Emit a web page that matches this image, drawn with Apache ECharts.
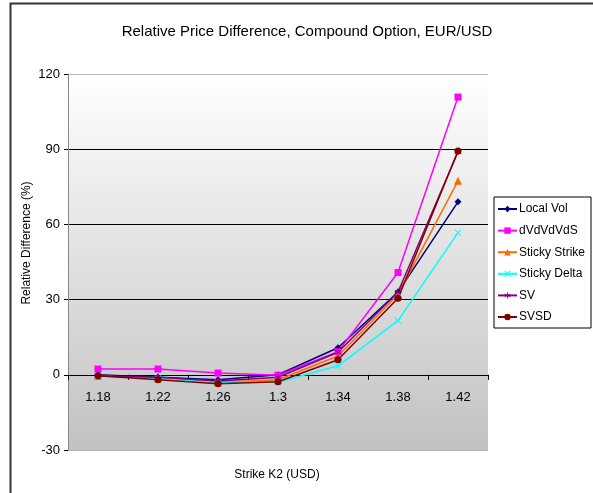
<!DOCTYPE html>
<html>
<head>
<meta charset="utf-8">
<script src="https://cdn.jsdelivr.net/npm/echarts@6/dist/echarts.min.js"></script>
<style>
  html, body { margin: 0; padding: 0; background: #fff; }
  #chart { width: 593px; height: 493px; }
</style>
</head>
<body>
<div id="chart"></div>
<script>
// Strike levels K2 (USD)
const strikes = ['1.18', '1.22', '1.26', '1.3', '1.34', '1.38', '1.42'];

// Relative price difference (%) per volatility model
const localVol     = [0.0, -1.0, -2.0, 0.0, 10.8, 33.0, 69.0];
const dVdVdVdS     = [2.3, 2.3, 0.7, -0.2, 9.2, 40.8, 110.8];
const stickyStrike = [-0.5, -1.5, -3.0, -2.0, 7.5, 32.0, 77.4];
const stickyDelta  = [-0.5, -1.5, -3.0, -3.0, 3.6, 21.6, 56.7];
const sv           = [-0.5, -1.0, -2.5, -1.0, 9.0, 33.0, 89.0];
const svsd         = [-0.4, -2.0, -3.6, -2.8, 6.0, 30.5, 89.3];

const yTicks = [-30, 0, 30, 60, 90, 120];

const FONT = '"Liberation Sans", Arial, sans-serif';

// plot box geometry
const GRID = { left: 68, right: 105, top: 74, bottom: 43 };
const plotHeight = 493 - GRID.top - GRID.bottom;
const yMin = yTicks[0], yMax = yTicks[yTicks.length - 1];
// shift the category axis up so it sits on the zero line
const zeroOffset = -plotHeight * (0 - yMin) / (yMax - yMin);

const crossPath = 'path://M0,1L1,0L5,4L9,0L10,1L6,5L10,9L9,10L5,6L1,10L0,9L4,5Z';
const starPath = 'path://M4.4,0H5.6V3.9L9.0,1.9L9.6,2.9L6.2,5L9.6,7.1L9.0,8.1L5.6,6.1V10H4.4V6.1L1.0,8.1L0.4,7.1L3.8,5L0.4,2.9L1.0,1.9L4.4,3.9Z';

function line(name, data, color, symbol, size) {
  return {
    name, type: 'line', data,
    symbol, symbolSize: size,
    showSymbol: true,
    lineStyle: { color, width: 1.5 },
    itemStyle: { color, borderWidth: 0 },
    emphasis: { disabled: true },
    animation: false
  };
}

const chart = echarts.init(document.getElementById('chart'), null, { renderer: 'canvas' });
chart.setOption({
  animation: false,
  backgroundColor: '#ffffff',
  title: {
    text: 'Relative Price Difference, Compound Option, EUR/USD',
    left: 302, top: 19, textAlign: 'center',
    textStyle: { fontFamily: FONT, fontSize: 15, fontWeight: 'normal', color: '#000' }
  },
  grid: {
    left: GRID.left, right: GRID.right, top: GRID.top, bottom: GRID.bottom,
    show: true, borderWidth: 0,
    backgroundColor: new echarts.graphic.LinearGradient(0, 0, 0, 1, [
      { offset: 0, color: '#ffffff' },
      { offset: 1, color: '#c2c2c2' }
    ])
  },
  legend: {
    orient: 'vertical',
    left: 494, top: 197,
    padding: [5, 6, 4, 3],
    itemGap: 7.6,
    itemWidth: 19, itemHeight: 8,
    backgroundColor: '#ffffff',
    borderColor: '#000000', borderWidth: 1, borderRadius: 0,
    textStyle: { fontFamily: FONT, fontSize: 12, lineHeight: 14, color: '#000', padding: [0, 0, 0, -3] },
    data: ['Local Vol', 'dVdVdVdS', 'Sticky Strike', 'Sticky Delta', 'SV', 'SVSD']
  },
  xAxis: {
    type: 'category',
    data: strikes,
    boundaryGap: true,
    offset: zeroOffset,
    axisLine: { onZero: false, lineStyle: { color: '#000', width: 1 } },
    axisTick: { show: true, alignWithLabel: false, length: 5, lineStyle: { color: '#000' } },
    axisLabel: { fontFamily: FONT, fontSize: 13, color: '#000', margin: 16 },
    splitLine: { show: false }
  },
  yAxis: {
    type: 'value',
    min: yMin, max: yMax, interval: 30,
    axisLine: { show: true, lineStyle: { color: '#888', width: 1 } },
    axisTick: { show: true, length: 4, lineStyle: { color: '#000' } },
    axisLabel: { fontFamily: FONT, fontSize: 13, color: '#000', margin: 8 },
    splitLine: {
      show: true,
      lineStyle: { color: ['#b0b0b0', '#000000', '#000000', '#000000', '#000000', '#b8b8b8'], width: 1 }
    }
  },
  graphic: [
    {
      type: 'rect',
      shape: { x: 10.5, y: 3.5, width: 600, height: 520 },
      style: { fill: 'none', stroke: '#333', lineWidth: 2 },
      silent: true, z: -10
    },
    {
      type: 'text',
      x: 277, y: 475,
      style: { text: 'Strike K2 (USD)', font: '12px ' + FONT, fill: '#000', align: 'center', verticalAlign: 'middle' }
    },
    {
      type: 'text',
      x: 27, y: 243, rotation: Math.PI / 2,
      style: { text: 'Relative Difference (%)', font: '12px ' + FONT, fill: '#000', align: 'center', verticalAlign: 'middle' }
    }
  ],
  series: [
    line('Local Vol', localVol, '#000080', 'diamond', 7),
    line('dVdVdVdS', dVdVdVdS, '#ff00ff', 'rect', 7),
    line('Sticky Strike', stickyStrike, '#ff6a00', 'triangle', 8),
    line('Sticky Delta', stickyDelta, '#00ffff', crossPath, 7),
    line('SV', sv, '#800080', starPath, 7),
    line('SVSD', svsd, '#800000', 'circle', 7)
  ]
});
</script>
</body>
</html>
